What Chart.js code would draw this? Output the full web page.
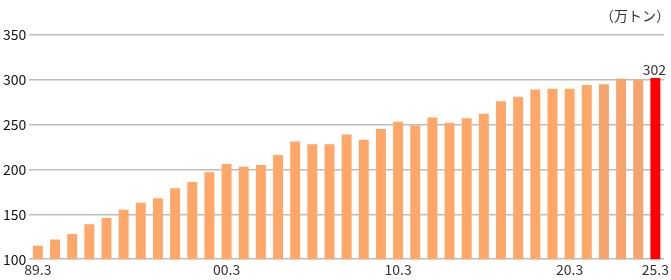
<!DOCTYPE html>
<html><head><meta charset="utf-8">
<script src="https://cdn.jsdelivr.net/npm/chart.js@4/dist/chart.umd.min.js"></script>
<style>html,body{margin:0;padding:0;background:#fff;}#wrap{width:671px;height:280px;}</style>
</head><body><div id="wrap"><canvas id="c"></canvas></div>
<script>
const categories = ["89.3","90.3","91.3","92.3","93.3","94.3","95.3","96.3","97.3","98.3","99.3","00.3","01.3","02.3","03.3","04.3","05.3","06.3","07.3","08.3","09.3","10.3","11.3","12.3","13.3","14.3","15.3","16.3","17.3","18.3","19.3","20.3","21.3","22.3","23.3","24.3","25.3"];
const values = [115,122,128,139,146,155,163,168,179,186,197,206,203,205,216,231,228,228,239,233,245,253,249,258,252,257,262,276,281,289,290,290,294,295,301,300,302];
const shownTicks = ["89.3","00.3","10.3","20.3","25.3"];
const yTicks = [100,150,200,250,300,350];
const unitLabel = "（万トン）";
const colors = values.map((v,i)=> i===values.length-1 ? "#FF0000" : (i>=33 ? "#F4A46C" : "#FFA768"));
const FONT = '"Noto Sans CJK JP", sans-serif';

const lastLabel = {
  id:'lastLabel',
  afterDatasetsDraw(chart){
    const meta = chart.getDatasetMeta(0);
    const el = meta.data[meta.data.length-1];
    const ctx = chart.ctx;
    ctx.save();
    ctx.font = '14px ' + FONT;
    ctx.fillStyle = '#333';
    ctx.textAlign = 'center';
    ctx.textBaseline = 'bottom';
    ctx.fillText(String(values[values.length-1]), el.x - 1, el.y - 1);
    ctx.restore();
  }
};

new Chart(document.getElementById('c'), {
  type:'bar',
  data:{labels:categories, datasets:[{data:values, backgroundColor:colors, borderWidth:0, categoryPercentage:1, barPercentage:0.58}]},
  options:{
    responsive:true, maintainAspectRatio:false, animation:false,
    layout:{padding:{left:0,right:1,top:0,bottom:0}},
    plugins:{
      legend:{display:false}, tooltip:{enabled:false},
      title:{display:true, text:unitLabel, align:'end', color:'#333', font:{family:FONT, size:14, weight:'normal'}, padding:{top:7,bottom:11}}
    },
    scales:{
      x:{grid:{display:false, drawTicks:false}, border:{display:false},
         ticks:{autoSkip:false, maxRotation:0, color:'#333', padding:2, font:{family:FONT, size:14},
           callback:function(v,i){const l=categories[i]; return shownTicks.includes(l)?l:'';}}},
      y:{min:100, max:350, afterBuildTicks:(ax)=>{ax.ticks=yTicks.map(v=>({value:v}));},
         grid:{color:'#bdbdbd', lineWidth:1.5, drawTicks:false}, border:{display:false},
         ticks:{color:'#111', padding:3, font:{family:FONT, size:14}}}
    }
  },
  plugins:[lastLabel]
});
</script></body></html>
